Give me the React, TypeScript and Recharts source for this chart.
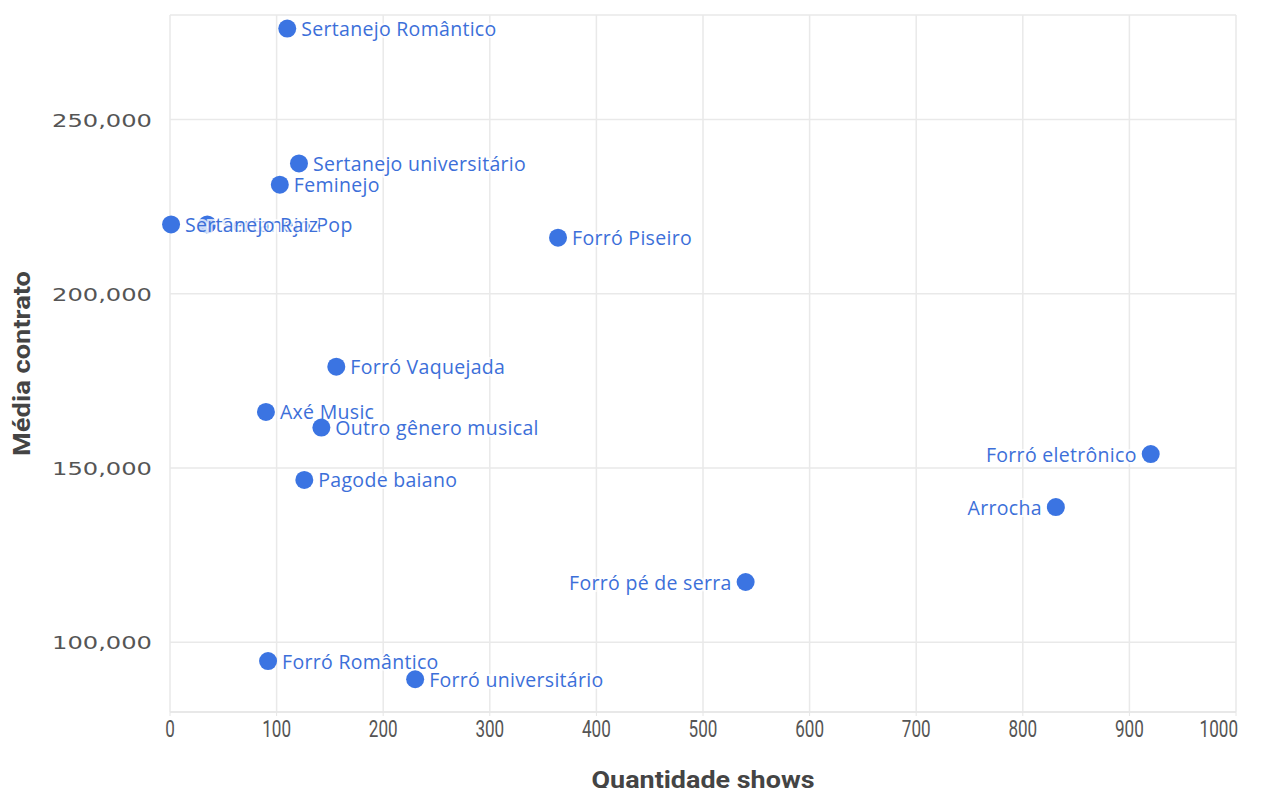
import { ScatterChart, Scatter, XAxis, YAxis, CartesianGrid, Label } from 'recharts';

// drawing order matters: later points sit on top of earlier ones
const genres = [
  'Sertanejo Romântico',
  'Sertanejo universitário',
  'Feminejo',
  'Sertanejo Pop',
  'Sertanejo Raiz',
  'Forró Piseiro',
  'Forró Vaquejada',
  'Axé Music',
  'Outro gênero musical',
  'Pagode baiano',
  'Forró eletrônico',
  'Arrocha',
  'Forró pé de serra',
  'Forró Romântico',
  'Forró universitário',
];
const shows = [110, 121, 103, 35, 1, 364, 156, 90, 142, 126, 920, 831, 540, 92, 230];
const mediaContrato = [276100, 237400, 231300, 219900, 219900, 216100, 179100, 166100, 161600, 146600, 154000, 138800, 117300, 94600, 89400];

const xTicks = [0, 100, 200, 300, 400, 500, 600, 700, 800, 900, 1000];
const yTicks = [100000, 150000, 200000, 250000];

const data = genres.map((name, i) => ({ name, x: shows[i], y: mediaContrato[i] }));

const DOT = '#3b74e2';
const TEXT = '#3c6fd9';

function Point(props: any) {
  const { cx, cy, payload } = props;
  const left = payload.x > 500;
  return (
    <g>
      <circle cx={cx} cy={cy} r={9} fill={DOT} />
      <text
        x={left ? cx - 14 : cx + 14}
        y={cy}
        textAnchor={left ? 'end' : 'start'}
        dominantBaseline="central"
        fontFamily="'Open Sans', 'Noto Sans', sans-serif"
        fontSize={19.5}
        letterSpacing={0.3}
        fill={TEXT}
        stroke="rgba(255,255,255,0.75)"
        strokeWidth={4}
        paintOrder="stroke"
      >
        {payload.name}
      </text>
    </g>
  );
}

function XTick(props: any) {
  const { x, y, payload } = props;
  const v = payload.value;
  const s = String(v);
  const last = v === 1000;
  return (
    <text
      x={last ? x + 2 : x}
      y={y + 19}
      textAnchor={last ? 'end' : 'middle'}
      fontFamily="Roboto, sans-serif"
      fontSize={24}
      fill="#555"
      textLength={s.length * 9.6}
      lengthAdjust="spacingAndGlyphs"
    >
      {s}
    </text>
  );
}

function YTick(props: any) {
  const { x, y, payload } = props;
  const s = payload.value.toLocaleString('en-US');
  return (
    <text
      x={x}
      y={y + 7}
      textAnchor="end"
      fontFamily="'DejaVu Sans', sans-serif"
      fontSize={18}
      fill="#555"
      textLength={100}
      lengthAdjust="spacingAndGlyphs"
    >
      {s}
    </text>
  );
}

export default function App() {
  return (
    <div style={{ margin: -8, width: 1270, height: 796, background: '#fff' }}>
      <ScatterChart width={1270} height={796} margin={{ top: 15, right: 34, bottom: 34, left: 0 }}>
        <CartesianGrid stroke="#e9e9e9" strokeWidth={1.5} />
        <XAxis
          type="number"
          dataKey="x"
          domain={[0, 1000]}
          ticks={xTicks}
          interval={0}
          height={50}
          axisLine={{ stroke: '#e6e6e6', strokeWidth: 1.5 }}
          tickLine={{ stroke: '#e6e6e6' }}
          tickSize={4}
          tick={<XTick />}
        >
          <Label
            content={({ viewBox }: any) => (
              <text
                x={viewBox.x + viewBox.width / 2}
                y={788}
                textAnchor="middle"
                fontFamily="Roboto, sans-serif"
                fontWeight={700}
                fontSize={23}
                fill="#444"
                textLength={223}
                lengthAdjust="spacingAndGlyphs"
              >
                Quantidade shows
              </text>
            )}
          />
        </XAxis>
        <YAxis
          type="number"
          dataKey="y"
          domain={[80000, 280000]}
          ticks={yTicks}
          width={170}
          axisLine={false}
          tickLine={false}
          tickSize={0}
          tickMargin={18}
          tick={<YTick />}
        >
          <Label
            content={({ viewBox }: any) => {
              const cy = viewBox.y + viewBox.height / 2;
              return (
                <text
                  x={30}
                  y={cy}
                  transform={`rotate(-90 30 ${cy})`}
                  textAnchor="middle"
                  fontFamily="Roboto, sans-serif"
                  fontWeight={700}
                  fontSize={23}
                  fill="#444"
                  textLength={185}
                  lengthAdjust="spacingAndGlyphs"
                >
                  Média contrato
                </text>
              );
            }}
          />
        </YAxis>
        <Scatter data={data} shape={<Point />} isAnimationActive={false} />
      </ScatterChart>
    </div>
  );
}
